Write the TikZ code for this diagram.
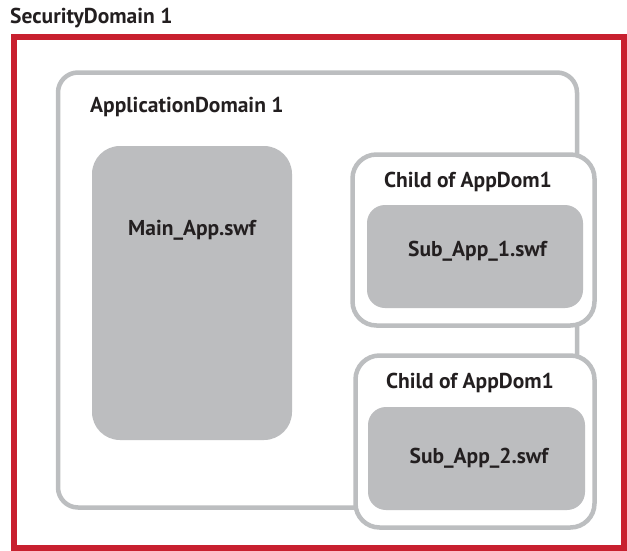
\documentclass[tikz,border=0pt]{standalone}
\usepackage{fontspec}
\setmainfont{PT Sans}
\usepackage{tikz}
\usetikzlibrary{positioning}
\definecolor{secline}{HTML}{C8202F}
\definecolor{domline}{HTML}{BCBEC0}
\definecolor{swffill}{HTML}{BCBDBF}
\definecolor{lbltext}{HTML}{231F20}
\tikzset{
  secbox/.style  = {draw=secline, line width=6pt, inner sep=0pt, outer sep=0pt},
  dombox/.style  = {draw=domline, fill=white, line width=4.5pt, inner sep=0pt,
                    outer sep=0pt},
  swfbox/.style  = {fill=swffill, inner sep=0pt, outer sep=0pt},
  domlbl/.style  = {font=\bfseries\fontsize{21.5}{24}\selectfont, text=lbltext,
                    inner sep=0pt},
}

\begin{document}
\begin{tikzpicture}[x=1pt, y=-1pt]
  \useasboundingbox (0,0) rectangle (627,550);
  % security domain
  \node[anchor=base west, domlbl] (sectitle) at (10,23) {SecurityDomain 1};
  \node[secbox, minimum width=610pt, minimum height=511pt] (sec) at (318.5,292.5) {};
  % application domain
  \node[dombox, rounded corners=20pt, minimum width=519pt, minimum height=435pt]
       (appdom) at (317.5,290) {};
  \node[anchor=base west, domlbl] (appdomttl) at (90,112) {ApplicationDomain 1};
  \node[swfbox, rounded corners=28pt, minimum width=200pt, minimum height=294pt]
       (mainapp) at (192,293) {};
  \node[domlbl] (mainlbl) at (192,230) {Main\_App.swf};
  % first child domain
  \node[dombox, rounded corners=24pt, minimum width=242pt, minimum height=171pt]
       (child1) at (473.5,240) {};
  \node[domlbl] (child1ttl) at (468,182) {Child of AppDom1};
  \node[swfbox, rounded corners=18pt, minimum width=216pt, minimum height=103pt]
       (sub1) at (475,256.5) {};
  \node[domlbl] (sub1lbl) at (477.5,251) {Sub\_App\_1.swf};
  % second child domain
  \node[dombox, rounded corners=24pt, minimum width=239pt, minimum height=172pt]
       (child2) at (475,441.5) {};
  \node[domlbl] (child2ttl) at (470,383) {Child of AppDom1};
  \node[swfbox, rounded corners=18pt, minimum width=217pt, minimum height=103pt]
       (sub2) at (476.5,458.5) {};
  \node[domlbl] (sub2lbl) at (479,458) {Sub\_App\_2.swf};
\end{tikzpicture}
\end{document}
